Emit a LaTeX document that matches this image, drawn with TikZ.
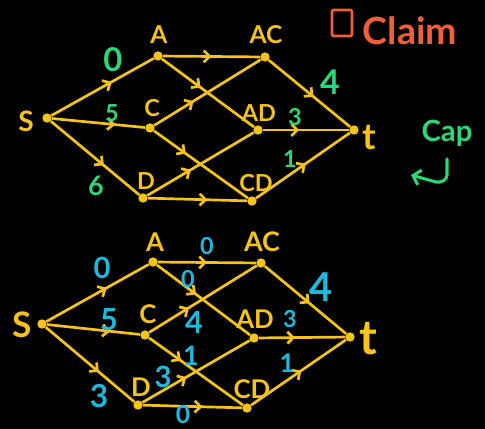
\documentclass[tikz,border=0pt]{standalone}
\usepackage{fontspec}
\setmainfont{Lato}
\usetikzlibrary{arrows.meta,decorations.markings}

\definecolor{penyellow}{RGB}{245,195,25}
\definecolor{pengreen}{RGB}{45,215,120}
\definecolor{pencyan}{RGB}{30,185,220}
\definecolor{penorange}{RGB}{240,95,55}

\newcommand{\pen}[1]{\fontsize{#1}{#1}\selectfont\bfseries}

\begin{document}
\begin{tikzpicture}[
x=0.03cm, y=-0.03cm,
every node/.style={
align=center,
inner sep=1pt,
font=\pen{21}
},
link/.style={
penyellow,
line width=2.3pt,
postaction={decorate},
decoration={markings,
mark=at position #1 with {\arrow{Straight Barb[length=5pt,width=10pt]}}}
},
link/.default=0.5
]

% =====================================================
% Styles
% =====================================================

\tikzstyle{vertex} =
[circle,
fill=penyellow,
inner sep=0pt,
minimum size=8pt]

\tikzstyle{vlabel} =
[text=penyellow]

\tikzstyle{capnum} =
[text=pengreen]

\tikzstyle{flownum} =
[text=pencyan]

% background and bounding box
\fill[black] (0,0) rectangle (485,429);

% =====================================================
% Top network (capacities)
% =====================================================

\node (s1) [vertex] at (47,118) {};
\node (a1) [vertex] at (158,56) {};
\node (ac1) [vertex] at (265,57) {};
\node (c1) [vertex] at (150,128) {};
\node (ad1) [vertex] at (258,130) {};
\node (t1) [vertex] at (354,130) {};
\node (d1) [vertex] at (143,198) {};
\node (cd1) [vertex] at (252,201) {};

\node (s1n) [vlabel, font=\pen{24}] at (26,121) {S};
\node (a1n) [vlabel] at (159,35) {A};
\node (ac1n) [vlabel] at (266,35) {AC};
\node (c1n) [vlabel, font=\pen{20}] at (152,108) {C};
\node (ad1n) [vlabel, font=\pen{20}] at (259,113) {AD};
\node (t1n) [vlabel, font=\pen{31}] at (369,137) {t};
\node (d1n) [vlabel, font=\pen{20}] at (146,181) {D};
\node (cd1n) [vlabel, font=\pen{20}] at (256,183) {CD};

\draw [link=0.59] (s1) -- (a1);
\draw [link=0.68] (s1) -- (c1);
\draw [link=0.6] (s1) -- (d1);
\draw [link=0.5] (a1) -- (ac1);
\draw [link=0.42] (a1) -- (ad1);
\draw [link=0.37] (c1) -- (ac1);
\draw [link=0.34] (c1) -- (cd1);
\draw [link=0.41] (d1) -- (ad1);
\draw [link=0.6] (d1) -- (cd1);
\draw [link=0.55] (ac1) -- (t1);
\draw [link=0.42] (ad1) -- (t1);
\draw [link=0.53] (cd1) -- (t1);

\node (cap1) [capnum, font=\pen{28}] at (113,60) {0};
\node (cap2) [capnum, font=\pen{20}] at (112,113) {5};
\node (cap3) [capnum, font=\pen{23}] at (96,186) {6};
\node (cap4) [capnum, font=\pen{29}] at (330,82) {4};
\node (cap5) [capnum, font=\pen{20}] at (295,117) {3};
\node (cap6) [capnum, font=\pen{20}] at (290,159) {1};

% =====================================================
% Bottom network (flow)
% =====================================================

\node (s2) [vertex] at (42,324) {};
\node (a2) [vertex] at (153,262) {};
\node (ac2) [vertex] at (261,263) {};
\node (c2) [vertex] at (145,335) {};
\node (ad2) [vertex] at (254,338) {};
\node (t2) [vertex] at (350,337) {};
\node (d2) [vertex] at (138,405) {};
\node (cd2) [vertex] at (247,408) {};

\node (s2n) [vlabel, font=\pen{30}] at (22,325) {S};
\node (a2n) [vlabel, font=\pen{22}] at (155,242) {A};
\node (ac2n) [vlabel, font=\pen{23}] at (262,242) {AC};
\node (c2n) [vlabel, font=\pen{22}] at (148,314) {C};
\node (ad2n) [vlabel, font=\pen{22}] at (255,319) {AD};
\node (t2n) [vlabel, font=\pen{41}] at (368,339) {t};
\node (d2n) [vlabel, font=\pen{22}] at (141,387) {D};
\node (cd2n) [vlabel, font=\pen{22}] at (252,389) {CD};

\draw [link=0.59] (s2) -- (a2);
\draw [link=0.68] (s2) -- (c2);
\draw [link=0.6] (s2) -- (d2);
\draw [link=0.5] (a2) -- (ac2);
\draw [link=0.42] (a2) -- (ad2);
\draw [link=0.37] (c2) -- (ac2);
\draw [link=0.34] (c2) -- (cd2);
\draw [link=0.41] (d2) -- (ad2);
\draw [link=0.6] (d2) -- (cd2);
\draw [link=0.55] (ac2) -- (t2);
\draw [link=0.42] (ad2) -- (t2);
\draw [link=0.53] (cd2) -- (t2);

\node (flow1) [flownum, font=\pen{25}] at (102,268) {0};
\node (flow2) [flownum, font=\pen{26}] at (109,320) {5};
\node (flow3) [flownum, font=\pen{27}] at (99,396) {3};
\node (flow4) [flownum, font=\pen{20}] at (207,246) {0};
\node (flow5) [flownum, font=\pen{20}] at (188,279) {0};
\node (flow6) [flownum, font=\pen{26}] at (194,322) {4};
\node (flow7) [flownum, font=\pen{23}] at (191,356) {1};
\node (flow8) [flownum, font=\pen{25}] at (163,377) {3};
\node (flow9) [flownum, font=\pen{21}] at (183,415) {0};
\node (flow10) [flownum, font=\pen{34}] at (321,287) {4};
\node (flow11) [flownum, font=\pen{20}] at (290,319) {3};
\node (flow12) [flownum, font=\pen{22}] at (287,363) {1};

% =====================================================
% Legend
% =====================================================

\node (claimbox) [draw=penorange, line width=2.3pt, rounded corners=1pt,
minimum width=0.6cm, minimum height=0.78cm, inner sep=0pt] at (342,23) {};
\node (claim) [text=penorange, font=\pen{32}] at (410,31) {Claim};

\node (cap) [text=pengreen, font=\pen{25}] at (447,133) {Cap};
\coordinate (bendtop) at (447,159);
\coordinate (bendend) at (411,175);
\draw [pengreen, line width=2.6pt, line cap=round, -{Straight Barb[length=6pt,width=13pt]}]
(bendtop) -- (447,175) to[out=-90,in=-10] (436,182) -- (bendend);

\end{tikzpicture}
\end{document}
